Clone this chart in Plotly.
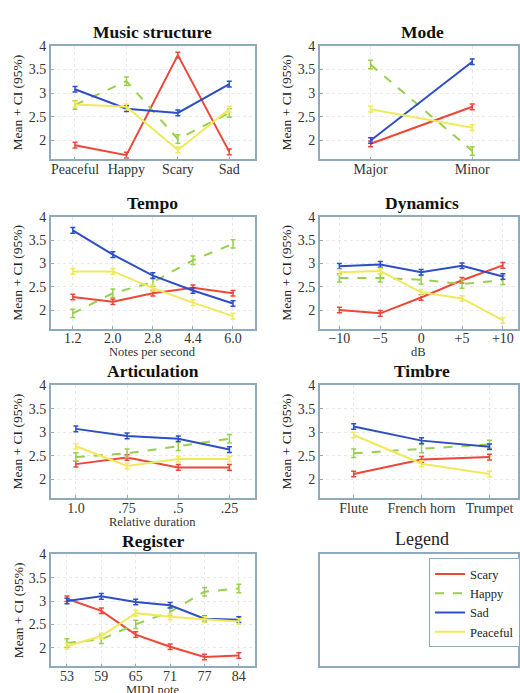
import plotly.graph_objects as go

# ---------------- data ----------------
series_names = ["Scary", "Happy", "Sad", "Peaceful"]

ms_cats = ["Peaceful", "Happy", "Scary", "Sad"]
ms_scary = [1.90, 1.69, 3.80, 1.76]
ms_happy = [2.75, 3.25, 2.03, 2.58]
ms_sad = [3.08, 2.67, 2.58, 3.19]
ms_peaceful = [2.76, 2.71, 1.80, 2.66]

mode_cats = ["Major", "Minor"]
mode_scary = [1.93, 2.71]
mode_happy = [3.60, 1.78]
mode_sad = [2.00, 3.66]
mode_peaceful = [2.66, 2.27]

tempo_cats = ["1.2", "2.0", "2.8", "4.4", "6.0"]
tempo_scary = [2.28, 2.18, 2.36, 2.48, 2.36]
tempo_happy = [1.93, 2.36, 2.60, 3.07, 3.42]
tempo_sad = [3.71, 3.19, 2.74, 2.42, 2.14]
tempo_peaceful = [2.83, 2.83, 2.47, 2.16, 1.87]

dyn_cats = ["\u221210", "\u22125", "0", "+5", "+10"]
dyn_scary = [2.00, 1.93, 2.27, 2.64, 2.96]
dyn_happy = [2.69, 2.69, 2.65, 2.56, 2.64]
dyn_sad = [2.94, 2.98, 2.81, 2.95, 2.72]
dyn_peaceful = [2.81, 2.84, 2.38, 2.25, 1.78]

art_cats = ["1.0", ".75", ".5", ".25"]
art_scary = [2.32, 2.46, 2.25, 2.25]
art_happy = [2.47, 2.55, 2.70, 2.86]
art_sad = [3.07, 2.92, 2.86, 2.63]
art_peaceful = [2.70, 2.28, 2.43, 2.43]

tim_cats = ["Flute", "French horn", "Trumpet"]
tim_scary = [2.11, 2.42, 2.47]
tim_happy = [2.55, 2.65, 2.74]
tim_sad = [3.12, 2.82, 2.69]
tim_peaceful = [2.94, 2.33, 2.11]

reg_cats = ["53", "59", "65", "71", "77", "84"]
reg_scary = [3.05, 2.79, 2.28, 2.02, 1.80, 1.83]
reg_happy = [2.10, 2.18, 2.50, 2.77, 3.20, 3.27]
reg_sad = [3.00, 3.10, 2.98, 2.91, 2.62, 2.60]
reg_peaceful = [2.03, 2.25, 2.74, 2.66, 2.61, 2.56]

ci = 0.06
ci_happy = 0.09

y_ticks = [2, 2.5, 3, 3.5, 4]
y_ticklabels = ["2", "2.5", "3", "3.5", "4"]

# ---------------- styling ----------------
W, H = 520, 693
colors = {"Scary": "#ee4637", "Happy": "#98d04c", "Sad": "#2d4ec6", "Peaceful": "#f0e95a"}
dashes = {"Scary": "solid", "Happy": "dash", "Sad": "solid", "Peaceful": "solid"}
serif = "Liberation Serif, Times New Roman, serif"
frame = "#8eaabb"

def px_x(p):
    return p / W

def px_y(p):
    return 1 - p / H

panels = [
    # title, cats, data, x pixels, y pixels, xrange, xlabel
    ("Music structure", ms_cats, [ms_scary, ms_happy, ms_sad, ms_peaceful], (51, 256), (39, 154), [-0.47, 3.5], None),
    ("Mode", mode_cats, [mode_scary, mode_happy, mode_sad, mode_peaceful], (321, 521), (39, 154), [-0.5, 1.45], None),
    ("Tempo", tempo_cats, [tempo_scary, tempo_happy, tempo_sad, tempo_peaceful], (51, 256), (212, 325), [-0.55, 4.55], "Notes per second"),
    ("Dynamics", dyn_cats, [dyn_scary, dyn_happy, dyn_sad, dyn_peaceful], (321, 521), (212, 325), [-0.48, 4.37], "dB"),
    ("Articulation", art_cats, [art_scary, art_happy, art_sad, art_peaceful], (51, 256), (382, 496), [-0.49, 3.5], "Relative duration"),
    ("Timbre", tim_cats, [tim_scary, tim_happy, tim_sad, tim_peaceful], (321, 521), (382, 496), [-0.5, 2.42], None),
    ("Register", reg_cats, [reg_scary, reg_happy, reg_sad, reg_peaceful], (51, 256), (553, 666), [-0.47, 5.47], "MIDI note"),
]

fig = go.Figure()
annotations = []
layout_axes = {}

for i, (title, cats, data, xp, yp, xr, xlabel) in enumerate(panels):
    n = i + 1
    xa = "x" if n == 1 else f"x{n}"
    ya = "y" if n == 1 else f"y{n}"
    xkey = "xaxis" if n == 1 else f"xaxis{n}"
    ykey = "yaxis" if n == 1 else f"yaxis{n}"
    for name, vals in zip(series_names, data):
        err = ci_happy if name == "Happy" else ci
        fig.add_trace(go.Scatter(
            x=list(range(len(cats))), y=vals, mode="lines", name=name,
            line=dict(color=colors[name], width=2, dash=dashes[name]),
            error_y=dict(type="constant", value=err, color=colors[name], thickness=1.5, width=2.5),
            xaxis=xa, yaxis=ya, showlegend=(n == 1), legendgroup=name,
        ))
    layout_axes[xkey] = dict(
        domain=[px_x(xp[0]), min(1.0, px_x(xp[1]))], anchor=ya, range=xr,
        tickmode="array", tickvals=list(range(len(cats))), ticktext=cats,
        showgrid=True, gridcolor="#e6eaef", griddash="dot", zeroline=False,
        showline=True, linecolor=frame, linewidth=1.5, mirror=True,
        ticks="inside", ticklen=3, tickcolor=frame, ticklabelstandoff=-4,
        tickfont=dict(family=serif, size=14, color="#333333"),
    )
    layout_axes[ykey] = dict(
        domain=[px_y(yp[1]), px_y(yp[0])], anchor=xa, range=[1.6, 4.0],
        tickmode="array", tickvals=y_ticks, ticktext=y_ticklabels,
        showgrid=True, gridcolor="#e6eaef", griddash="dot", zeroline=False,
        showline=True, linecolor=frame, linewidth=1.5, mirror=True,
        ticks="inside", ticklen=3, tickcolor=frame,
        tickfont=dict(family=serif, size=14, color="#333333"),
    )
    tx = (xp[0] + xp[1]) / 2 if n % 2 == 1 else 424
    annotations.append(dict(
        text=f"<b>{title}</b>", x=px_x(tx), y=px_y(yp[0] - 14),
        xref="paper", yref="paper", showarrow=False, xanchor="center", yanchor="middle",
        font=dict(family=serif, size=17.5, color="#111111"),
    ))
    annotations.append(dict(
        text="Mean + CI (95%)", x=px_x(xp[0] - 33), y=px_y((yp[0] + yp[1]) / 2),
        xref="paper", yref="paper", showarrow=False, textangle=-90,
        xanchor="center", yanchor="middle",
        font=dict(family=serif, size=13.5, color="#222222"),
    ))
    if xlabel:
        annotations.append(dict(
            text=xlabel, x=px_x((xp[0] + min(xp[1], 520)) / 2), y=px_y(yp[1] + 24),
            xref="paper", yref="paper", showarrow=False, xanchor="center", yanchor="middle",
            font=dict(family=serif, size=12.5, color="#333333"),
        ))

# Legend panel (empty box)
layout_axes["xaxis8"] = dict(domain=[px_x(321), 1.0], anchor="y8", range=[0, 1],
                             showgrid=False, zeroline=False, showticklabels=False,
                             showline=True, linecolor=frame, linewidth=1.5, mirror=True, ticks="")
layout_axes["yaxis8"] = dict(domain=[px_y(666), px_y(553)], anchor="x8", range=[0, 1],
                             showgrid=False, zeroline=False, showticklabels=False,
                             showline=True, linecolor=frame, linewidth=1.5, mirror=True, ticks="")
fig.add_trace(go.Scatter(x=[], y=[], xaxis="x8", yaxis="y8", showlegend=False))
annotations.append(dict(
    text="Legend", x=px_x(424), y=px_y(537), xref="paper", yref="paper", showarrow=False,
    xanchor="center", yanchor="middle", font=dict(family=serif, size=18, color="#222222"),
))

fig.update_layout(
    width=W, height=H, margin=dict(l=0, r=0, t=0, b=0),
    paper_bgcolor="white", plot_bgcolor="white",
    annotations=annotations,
    legend=dict(x=px_x(431), y=px_y(557), xanchor="left", yanchor="top",
                bordercolor=frame, borderwidth=1, bgcolor="white",
                font=dict(family=serif, size=12.5, color="#222222"),
                tracegroupgap=0, itemwidth=30),
    **layout_axes,
)

fig.write_html(
    "out.html",
    config={"displayModeBar": False},
    post_script="document.body.style.margin='0';document.body.style.overflow='hidden';"
                "document.documentElement.style.overflow='hidden';",
)
